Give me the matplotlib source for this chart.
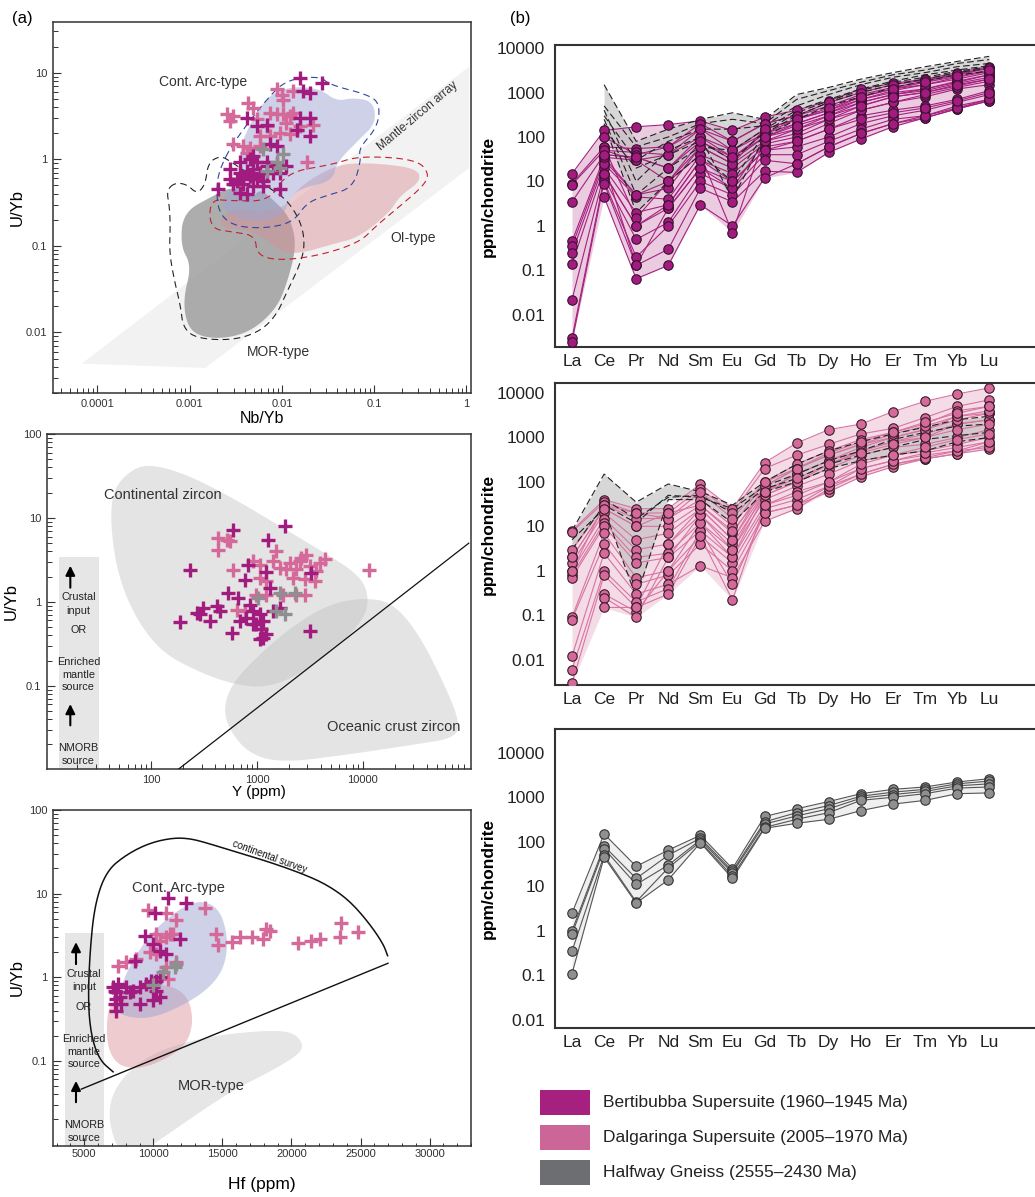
import numpy as np
import matplotlib
matplotlib.use("Agg")
import matplotlib.pyplot as plt
from matplotlib.patches import Polygon, Rectangle
from matplotlib.ticker import LogLocator, NullFormatter, AutoMinorLocator

plt.rcParams['font.family'] = ['Liberation Sans', 'DejaVu Sans']

# ---------------- colours ----------------
BERT = '#A21C7F'
DALG = '#D4699A'
HALF = '#8F8F8F'

# ---------------- (a) top: Nb/Yb vs U/Yb ----------------
# field outlines as (log10 Nb/Yb, log10 U/Yb)
mantle_array = [(-4.17, -2.36), (-2.83, -2.41), (0.03, -0.10), (0.03, 1.07)]
arc_field = [(-2.45, 0.19), (-2.20, 0.69), (-1.95, 0.84), (-1.59, 0.82), (-1.41, 0.67),
             (-1.23, 0.71), (-1.01, 0.67), (-0.98, 0.42), (-1.16, 0.23), (-1.41, -0.04),
             (-1.45, -0.25), (-1.81, -0.34), (-1.91, -0.46), (-1.99, -0.65), (-2.31, -0.73),
             (-2.63, -0.61), (-2.65, -0.46), (-2.53, -0.31), (-2.45, -0.08)]
arc_outline = [(-2.67, -0.10), (-2.53, 0.19), (-2.17, 0.69), (-1.95, 0.92), (-1.59, 0.96),
               (-1.48, 0.86), (-1.08, 0.75), (-0.94, 0.65), (-0.96, 0.38), (-1.17, 0.12),
               (-1.14, 0.0), (-1.23, -0.33), (-1.52, -0.42), (-1.73, -0.50), (-1.88, -0.73),
               (-2.20, -0.80), (-2.53, -0.77), (-2.69, -0.61), (-2.71, -0.31)]
oi_field = [(-2.67, -0.69), (-2.53, -0.57), (-2.20, -0.61), (-1.95, -0.54), (-1.81, -0.31),
            (-1.41, -0.06), (-1.05, -0.04), (-0.54, -0.10), (-0.49, -0.25), (-0.72, -0.42),
            (-0.83, -0.61), (-1.16, -0.90), (-1.45, -0.98), (-1.81, -1.09), (-2.02, -1.07),
            (-2.20, -0.89), (-2.45, -0.80), (-2.65, -0.80)]
oi_outline = [(-2.78, -0.46), (-2.53, -0.48), (-2.13, -0.48), (-1.95, -0.15), (-1.45, -0.06),
              (-1.16, 0.04), (-0.54, 0.0), (-0.40, -0.17), (-0.47, -0.31), (-0.72, -0.54),
              (-0.98, -0.77), (-1.16, -0.96), (-1.59, -1.11), (-2.02, -1.17), (-2.27, -1.11),
              (-2.29, -0.88), (-2.53, -0.84), (-2.78, -0.80)]
mor_field = [(-3.10, -1.00), (-3.07, -0.61), (-2.74, -0.42), (-2.60, -0.34), (-2.45, -0.34),
             (-2.31, -0.44), (-2.24, -0.34), (-2.06, -0.50), (-1.91, -0.68), (-1.84, -1.00),
             (-1.95, -1.45), (-2.06, -1.72), (-2.31, -1.97), (-2.60, -2.07), (-2.89, -2.05),
             (-3.03, -1.92), (-3.07, -1.61), (-2.98, -1.23)]
mor_outline = [(-3.25, -0.36), (-3.16, -0.27), (-3.03, -0.29), (-2.92, -0.40), (-2.83, -0.29),
               (-2.80, -0.04), (-2.67, 0.04), (-2.56, -0.02), (-2.17, -0.31), (-1.95, -0.46),
               (-1.79, -0.73), (-1.75, -1.00), (-1.81, -1.23), (-1.95, -1.54), (-2.06, -1.80),
               (-2.24, -1.99), (-2.53, -2.09), (-2.92, -2.07), (-3.07, -1.95), (-3.10, -1.69),
               (-3.17, -1.38), (-3.22, -1.07), (-3.21, -0.77), (-3.22, -0.54)]

p1_bert = [(0.0157, 8.7), (0.0269, 7.6), (0.0170, 6.1), (0.0201, 5.8), (0.0157, 3.0), (0.0201, 3.0),
           (0.00532, 2.4), (0.00682, 2.5), (0.0144, 2.2), (0.0201, 1.85), (0.00415, 3.0), (0.00741, 1.49),
           (0.00875, 1.42), (0.00352, 0.92), (0.00451, 1.0), (0.00532, 0.92), (0.00682, 0.92),
           (0.00875, 0.88), (0.0112, 0.84), (0.00274, 0.77), (0.00352, 0.70), (0.00415, 0.73),
           (0.0049, 0.77), (0.00578, 0.70), (0.00682, 0.70), (0.00274, 0.59), (0.00324, 0.56),
           (0.00382, 0.59), (0.00451, 0.64), (0.00532, 0.59), (0.00628, 0.56), (0.00805, 0.70),
           (0.0095, 0.70), (0.00298, 0.52), (0.00382, 0.52), (0.0049, 0.49), (0.00628, 0.49),
           (0.00352, 0.41), (0.00415, 0.40), (0.0095, 0.45), (0.00205, 0.45), (0.00682, 0.84),
           (0.0049, 1.09)]
p1_dalg = [(0.00875, 6.4), (0.0099, 5.6), (0.0103, 4.9), (0.0133, 6.1), (0.00252, 3.3), (0.00298, 3.15),
           (0.00274, 2.8), (0.00432, 4.5), (0.0049, 3.9), (0.00741, 3.4), (0.00875, 3.3), (0.0103, 3.3),
           (0.0122, 3.15), (0.0133, 3.4), (0.0112, 2.6), (0.0157, 2.4), (0.0218, 2.5), (0.0095, 2.0),
           (0.0122, 1.94), (0.00578, 1.85), (0.00741, 1.85), (0.00298, 1.49), (0.00382, 1.42),
           (0.00451, 1.36), (0.00415, 1.19), (0.0185, 0.92), (0.0144, 2.2), (0.00578, 1.42),
           (0.00532, 2.9), (0.00682, 2.4)]
p1_half = [(0.00628, 1.30), (0.0103, 1.14), (0.00682, 0.73), (0.0095, 0.80), (0.00875, 0.92)]

# ---------------- (a) middle: Y vs U/Yb ----------------
cont_zircon = [(1.614, 0.960), (1.645, 1.357), (1.834, 1.595), (2.022, 1.635), (2.336, 1.516),
               (2.713, 1.278), (3.089, 1.0), (3.560, 0.643), (3.969, 0.325), (4.063, 0.048),
               (4.0, -0.230), (3.717, -0.587), (3.403, -0.865), (3.089, -1.024), (2.776, -0.984),
               (2.430, -0.825), (2.085, -0.587), (1.834, -0.151), (1.677, 0.365)]
ocean_zircon = [(2.681, -1.262), (2.776, -0.944), (3.089, -0.548), (3.403, -0.230), (3.717, -0.012),
                (4.031, 0.048), (4.283, -0.012), (4.534, -0.389), (4.785, -1.024), (4.911, -1.421),
                (4.879, -1.619), (4.502, -1.698), (3.874, -1.817), (3.246, -1.917), (2.932, -1.817),
                (2.744, -1.540)]
y_disc_x = [175, 100000]
y_disc_u = [0.0098, 5.0]

p2_bert = [(233, 2.38), (597, 7.1), (1274, 5.5), (1829, 8.1), (826, 2.78), (1227, 2.25), (768, 1.81),
           (535, 1.26), (665, 1.12), (187, 0.57), (269, 0.74), (311, 0.85), (415, 0.89), (359, 0.59),
           (447, 0.77), (575, 0.43), (857, 0.93), (796, 0.65), (920, 0.77), (1064, 0.71), (1143, 0.59),
           (989, 0.54), (1103, 0.47), (1227, 0.41), (1143, 0.37), (1064, 0.36), (1419, 0.77),
           (1641, 0.85), (3258, 2.21), (3148, 0.45), (290, 0.71), (689, 0.59), (1321, 1.47), (920, 0.54)]
p2_dalg = [(431, 5.8), (516, 5.5), (555, 5.3), (431, 4.2), (597, 2.38), (920, 3.05), (1064, 2.78),
           (1419, 3.05), (1641, 2.54), (2037, 2.91), (2529, 3.05), (3148, 2.66), (3908, 2.91),
           (4355, 3.28), (2623, 3.34), (2191, 1.93), (2825, 1.85), (3508, 1.76), (1527, 4.0),
           (11400, 2.38), (641, 0.81), (768, 0.77), (989, 1.22), (1227, 1.76), (1763, 1.22),
           (2356, 1.22), (2825, 1.22), (1064, 1.93), (1227, 1.22), (1898, 2.43), (2356, 2.43),
           (3633, 2.32), (2924, 3.66)]
p2_half = [(1026, 1.12), (1641, 1.28), (2271, 1.28), (1527, 0.77), (1829, 0.71)]

# ---------------- (a) bottom: Hf vs U/Yb ----------------
# outlines as (Hf ppm, log10 U/Yb)
arc_hf = [(7324, -0.317), (8049, 0.079), (9740, 0.516), (11670, 0.794), (13120, 0.913), (14330, 0.873),
          (15050, 0.714), (15420, 0.397), (15050, 0.079), (13850, -0.159), (11920, -0.357),
          (9740, -0.496), (8049, -0.476), (7324, -0.397)]
oi_hf = [(6600, -0.556), (6842, -0.317), (8049, -0.159), (9980, -0.079), (11670, -0.119),
         (12640, -0.278), (12880, -0.556), (12400, -0.794), (11190, -0.952), (9259, -1.091),
         (7566, -1.071), (6721, -0.873)]
mor_hf = [(6842, -1.468), (7808, -1.190), (9498, -0.952), (11920, -0.794), (14570, -0.694),
          (18190, -0.635), (20120, -0.655), (20850, -0.794), (20610, -0.913), (18680, -1.111),
          (15780, -1.349), (12880, -1.667), (10470, -1.944), (9020, -2.10), (7566, -2.10),
          (6842, -1.786)]
survey_hf = [(7084, -1.131), (6117, -0.992), (5514, -0.714), (5272, -0.317), (5393, 0.278),
             (5755, 0.873), (6600, 1.270), (8051, 1.468), (9740, 1.607), (11430, 1.667),
             (12640, 1.659), (13860, 1.607), (15780, 1.508), (18200, 1.389), (20610, 1.25),
             (22540, 1.111), (24230, 0.913), (25680, 0.635), (26650, 0.397), (26960, 0.258)]
hf_disc_x = [4789, 26990]
hf_disc_u = [0.046, 1.47]

p3_bert = [(11070, 8.96), (12400, 7.7), (10100, 5.9), (11920, 2.86), (9380, 3.08), (9980, 2.49),
           (10470, 2.08), (10950, 1.90), (8650, 1.58), (7084, 0.76), (7446, 0.83), (7324, 0.66),
           (7566, 0.58), (7205, 0.48), (7324, 0.40), (8049, 0.76), (8532, 0.69), (9015, 0.76),
           (8290, 0.66), (9498, 0.83), (9980, 0.76), (10220, 0.69), (10470, 0.58), (9980, 0.53),
           (9015, 0.48), (9860, 0.91), (10220, 0.91), (10470, 1.0), (7324, 0.55), (7205, 0.69),
           (7687, 0.48)]
p3_dalg = [(9620, 6.3), (10950, 5.9), (11670, 4.9), (13720, 6.7), (14570, 3.28), (14690, 2.45),
           (15660, 2.61), (16260, 3.0), (17110, 3.0), (17950, 2.86), (18190, 3.76), (20480, 2.57),
           (21450, 2.73), (22050, 2.86), (23500, 3.0), (23620, 4.5), (24830, 3.43), (7446, 1.38),
           (8049, 1.51), (8773, 1.65), (10220, 3.28), (10470, 2.73), (10950, 3.0), (11190, 3.28),
           (9740, 1.99), (10220, 1.90), (10950, 1.31), (11070, 0.95), (11670, 1.51), (11430, 3.28),
           (18430, 3.6)]
p3_half = [(10710, 1.15), (9980, 0.80), (11550, 1.31), (11670, 1.44)]

# ---------------- (b) chondrite-normalised REE ----------------
elements = ['La', 'Ce', 'Pr', 'Nd', 'Sm', 'Eu', 'Gd', 'Tb', 'Dy', 'Ho', 'Er', 'Tm', 'Yb', 'Lu']
nan = np.nan
ree_bert = [
    [15, 140, 170, 190, 230, 140, 280, 400, 650, 1200, 1600, 2000, 2800, 3800],
    [9, 60, 55, 60, 200, 80, 200, 300, 500, 900, 1300, 1800, 2500, 3500],
    [8.5, 50, 45, 40, 150, 50, 150, 250, 400, 800, 1200, 1500, 2200, 3000],
    [3.5, 40, 35, 20, 100, 35, 120, 200, 350, 700, 1000, 1200, 1700, 2500],
    [0.45, 35, 30, 10, 80, 30, 100, 150, 300, 600, 900, 1100, 1600, 2200],
    [0.35, 30, 5, 7, 60, 25, 80, 120, 250, 500, 800, 1000, 1400, 2000],
    [0.25, 25, 4.5, 4, 40, 20, 70, 100, 200, 400, 600, 800, 1200, 1500],
    [0.14, 20, 2, 3, 30, 15, 60, 80, 150, 300, 400, 500, 700, 1100],
    [0.022, 15, 1, 2.5, 20, 10, 50, 60, 100, 200, 300, 400, 600, 900],
    [0.003, 12, 0.5, 1.2, 15, 7, 40, 40, 80, 150, 250, 300, 500, 700],
    [0.0025, 10, 0.2, 1, 10, 5, 30, 25, 60, 120, 200, 270, 430, 650],
    [nan, 9, 0.13, 0.3, 7, 3.5, 17, 16, 45, 90, 170, 270, 430, 650],
    [nan, 4.5, 0.065, 0.13, 3, 1, 12, 25, 60, 120, 200, 300, 450, 700],
    [nan, 60, 1.5, 10, 40, 0.7, 100, 200, 350, 600, 900, 1200, 1800, 2500],
    [nan, 50, 30, 40, 100, 50, 120, 250, 400, 700, 1100, 1500, 2000, 2800],
    [nan, 25, 0.13, 2.5, 20, 7, 80, 150, 250, 400, 600, 900, 1300, 1800],
    [nan, 100, 40, 60, 150, 80, 200, 300, 600, 1000, 1500, 1900, 2600, 3600],
    [nan, 35, 5, 10, 60, 25, 150, 250, 450, 800, 1200, 1700, 2300, 3200],
    [nan, 15, 1, 3, 30, 10, 50, 80, 150, 250, 350, 450, 650, 1000],
    [nan, 40, 35, 20, 80, 35, 100, 180, 300, 500, 800, 1000, 1500, 2000],
]
ref_bert = [
    [nan, 1500, 80, 150, 250, 350, 250, 900, 1300, 2000, 2800, 3800, 5000, 6500],
    [nan, 500, 60, 100, 200, 250, 200, 700, 1100, 1700, 2500, 3200, 4500, 5500],
    [nan, 300, 30, 80, 150, 150, 180, 500, 900, 1500, 2200, 2800, 3800, 4500],
    [nan, 250, 5, 20, 60, 50, 150, 400, 700, 1200, 1800, 2500, 3200, 4000],
    [nan, 200, 2, 10, 40, 10, 120, 300, 600, 1000, 1500, 2000, 2800, 3500],
    [nan, 400, 10, 50, 100, 4, 100, 250, 500, 800, 1300, 1800, 2500, 3000],
    [nan, 150, 20, 40, 80, 30, 130, 350, 650, 1100, 1700, 2200, 3000, 3800],
]
ree_dalg = [
    [8, 40, 25, 25, 90, 25, 270, 750, 1500, 2000, 3800, 6500, 9500, 13000],
    [7.5, 35, 20, 20, 70, 20, 200, 400, 700, 1200, 1600, 2800, 5000, 7000],
    [3, 30, 15, 15, 40, 10, 100, 250, 500, 900, 1300, 2000, 4000, 5000],
    [2, 25, 10, 10, 30, 7, 80, 200, 400, 700, 1000, 1500, 3000, 3500],
    [1.5, 20, 5, 7, 25, 5, 60, 150, 300, 500, 800, 1000, 2000, 2500],
    [1, 15, 3, 4, 18, 4, 50, 100, 200, 400, 600, 700, 1000, 1500],
    [0.8, 12, 2, 2.5, 12, 3, 40, 80, 150, 300, 400, 500, 700, 1000],
    [0.7, 10, 1.5, 2, 8, 2, 30, 60, 100, 200, 300, 400, 500, 800],
    [0.09, 7, 0.7, 1, 6, 1.5, 25, 40, 80, 150, 250, 330, 430, 700],
    [0.08, 4, 0.5, 0.8, 4, 1, 20, 30, 60, 130, 220, 330, 430, 550],
    [0.012, 2.5, 0.3, 0.5, 1.3, 0.7, 13, 25, 70, 150, 250, 350, 500, 600],
    [0.006, 1, 0.2, 0.4, 8, 0.5, 20, 30, 80, 200, 300, 450, 600, 800],
    [0.003, 0.8, 0.15, 0.3, 6, 0.22, 30, 50, 100, 250, 400, 600, 900, 1200],
    [nan, 0.3, 0.12, 1, 12, 2, 50, 100, 250, 500, 800, 1200, 2000, 2500],
    [nan, 0.25, 0.09, 2, 18, 3, 60, 150, 300, 600, 1000, 1500, 2500, 3500],
    [nan, 0.15, 0.15, 4, 25, 5, 80, 200, 400, 700, 1200, 1800, 3000, 4000],
    [1, 30, 20, 15, 60, 15, 100, 200, 450, 800, 1300, 2200, 3500, 5000],
    [2, 25, 10, 20, 30, 8, 60, 120, 250, 450, 700, 1000, 1500, 2000],
]
ref_dalg = [
    [8, 150, 35, 90, 60, 30, 100, 250, 500, 800, 1200, 1700, 2500, 3000],
    [3, 30, 12, 50, 45, 25, 80, 150, 300, 500, 900, 1300, 1800, 2000],
    [5, 25, 0.25, 40, 40, 12, 60, 100, 200, 300, 400, 500, 800, 1000],
    [nan, 40, 15, 45, 50, 20, 70, 120, 250, 400, 600, 900, 1100, 1300],
]
ree_half = [
    [2.5, 150, 28, 65, 140, 25, 370, 550, 800, 1200, 1500, 1700, 2200, 2600],
    [1.0, 80, 15, 50, 120, 22, 280, 450, 650, 1050, 1300, 1500, 2000, 2300],
    [0.85, 70, 11, 30, 110, 20, 250, 380, 550, 950, 1150, 1350, 1800, 2000],
    [0.35, 50, 4.5, 26, 100, 17, 210, 320, 450, 850, 1000, 1200, 1600, 1700],
    [0.11, 45, 4.2, 14, 95, 15, 200, 260, 320, 500, 700, 850, 1200, 1250],
]

legend_labels = ['Bertibubba Supersuite (1960\u20131945 Ma)',
                 'Dalgaringa Supersuite (2005\u20131970 Ma)',
                 'Halfway Gneiss (2555\u20132430 Ma)']
legend_colors = ['#A6217F', '#CC6699', '#6D6E71']

# ---------------- helpers ----------------
W, H = 1035, 1197
fig = plt.figure(figsize=(W / 100, H / 100), dpi=100)


def px_axes(l, t, r, b):
    return fig.add_axes([l / W, 1 - b / H, (r - l) / W, (b - t) / H])


def chaikin(pts, n=3, closed=True):
    p = np.asarray(pts, float)
    for _ in range(n):
        if closed:
            q = np.roll(p, -1, axis=0)
            p = np.concatenate([0.75 * p + 0.25 * q, 0.25 * p + 0.75 * q], axis=1).reshape(-1, 2)
        else:
            a, b = p[:-1], p[1:]
            mid = np.concatenate([0.75 * a + 0.25 * b, 0.25 * a + 0.75 * b], axis=1).reshape(-1, 2)
            p = np.vstack([p[:1], mid, p[-1:]])
    return p


def to_data(s, xlog):
    x = 10 ** s[:, 0] if xlog else s[:, 0]
    return np.column_stack([x, 10 ** s[:, 1]])


def field(ax, pts, xlog=True, smooth=True, **kw):
    s = chaikin(pts) if smooth else np.asarray(pts, float)
    ax.add_patch(Polygon(to_data(s, xlog), closed=True, **kw))


def crosses(ax, pts, color):
    x, y = zip(*pts)
    ax.plot(x, y, '+', color=color, ms=9.5, mew=2.4, ls='none', zorder=6)


def style_a(ax):
    for s in ax.spines.values():
        s.set_linewidth(1.1)
        s.set_color('#333333')
    ax.tick_params(which='both', direction='in', top=False, right=False,
                   labelsize=8, colors='#333333', pad=4)
    ax.tick_params(which='major', length=6, width=0.8)
    ax.tick_params(which='minor', length=3.5, width=0.7)


def side_bar(ax):
    ax.add_patch(Rectangle((0.028, 0), 0.094, 0.634, transform=ax.transAxes,
                           color='#E6E6E6', lw=0, zorder=0.5))
    tx = 0.074
    for txt, yy in [('Crustal', 0.512), ('input', 0.473), ('OR', 0.414), ('Enriched', 0.318),
                    ('mantle', 0.280), ('source', 0.244), ('NMORB', 0.063), ('source', 0.025)]:
        ax.text(tx, yy, txt, transform=ax.transAxes, ha='center', va='center',
                fontsize=7.8, color='#222222', zorder=7)
    for y0, y1 in [(0.533, 0.615), (0.122, 0.202)]:
        ax.annotate('', xy=(0.055, y1), xytext=(0.055, y0), xycoords='axes fraction',
                    arrowprops=dict(arrowstyle='-|>', color='k', lw=1.5, mutation_scale=14),
                    zorder=7)


# ---------------- panel (a) top ----------------
ax1 = px_axes(53, 22, 471, 393)
ax1.set_xscale('log')
ax1.set_yscale('log')
ax1.set_xlim(3.3e-5, 1.12)
ax1.set_ylim(0.002, 38.5)
field(ax1, mantle_array, smooth=False, color='#F2F2F2', lw=0, zorder=1)
field(ax1, mor_field, color='#999999', alpha=0.8, lw=0, zorder=2)
field(ax1, oi_field, color='#D98C94', alpha=0.45, lw=0, zorder=3)
field(ax1, arc_field, color='#9FA5D3', alpha=0.5, lw=0, zorder=3)
field(ax1, mor_outline, fill=False, ec='#222222', lw=0.8, ls=(0, (6, 4)), zorder=4)
field(ax1, oi_outline, fill=False, ec='#C3202E', lw=0.8, ls=(0, (6, 4)), zorder=4)
field(ax1, arc_outline, fill=False, ec='#2E45A0', lw=0.8, ls=(0, (6, 4)), zorder=4)
crosses(ax1, p1_dalg, DALG)
crosses(ax1, p1_bert, BERT)
crosses(ax1, p1_half, HALF)
ax1.text(0.00141, 7.9, 'Cont. Arc-type', ha='center', va='center', fontsize=10, color='#333333')
ax1.text(0.263, 0.123, 'OI-type', ha='center', va='center', fontsize=10, color='#333333')
ax1.text(0.0091, 0.006, 'MOR-type', ha='center', va='center', fontsize=10, color='#333333')
ax1.text(0.298, 3.15, 'Mantle-zircon array', ha='center', va='center', fontsize=8.5,
         rotation=40, color='#333333')
ax1.set_xticks([1e-4, 1e-3, 1e-2, 1e-1, 1])
ax1.set_xticklabels(['0.0001', '0.001', '0.01', '0.1', '1'])
ax1.set_yticks([0.01, 0.1, 1, 10])
ax1.set_yticklabels(['0.01', '0.1', '1', '10'])
for axis in (ax1.xaxis, ax1.yaxis):
    axis.set_minor_locator(LogLocator(base=10, subs=np.arange(2, 10)))
    axis.set_minor_formatter(NullFormatter())
style_a(ax1)
ax1.set_xlabel('Nb/Yb', fontsize=11.5, labelpad=2)
ax1.set_ylabel('U/Yb', fontsize=12, labelpad=1)

# ---------------- panel (a) middle ----------------
ax2 = px_axes(47, 434, 471, 769)
ax2.set_xscale('log')
ax2.set_yscale('log')
ax2.set_xlim(10.4, 1.05e5)
ax2.set_ylim(0.0102, 100)
field(ax2, cont_zircon, color='#BDBDBD', alpha=0.4, lw=0, zorder=1)
field(ax2, ocean_zircon, color='#BDBDBD', alpha=0.4, lw=0, zorder=1)
ax2.plot(y_disc_x, y_disc_u, color='#111111', lw=0.9, zorder=4)
side_bar(ax2)
crosses(ax2, p2_dalg, DALG)
crosses(ax2, p2_bert, BERT)
crosses(ax2, p2_half, HALF)
ax2.text(35.6, 18.6, 'Continental zircon', ha='left', va='center', fontsize=10.5, color='#333333')
ax2.text(19600, 0.032, 'Oceanic crust zircon', ha='center', va='center', fontsize=10.5,
         color='#333333')
ax2.set_xticks([100, 1000, 10000])
ax2.set_xticklabels(['100', '1000', '10000'])
ax2.set_yticks([0.1, 1, 10, 100])
ax2.set_yticklabels(['0.1', '1', '10', '100'])
for axis in (ax2.xaxis, ax2.yaxis):
    axis.set_minor_locator(LogLocator(base=10, subs=np.arange(2, 10)))
    axis.set_minor_formatter(NullFormatter())
style_a(ax2)
ax2.set_xlabel('Y (ppm)', fontsize=11, labelpad=0)
ax2.set_ylabel('U/Yb', fontsize=12, labelpad=3)

# ---------------- panel (a) bottom ----------------
ax3 = px_axes(53, 810, 471, 1146)
ax3.set_yscale('log')
ax3.set_xlim(2734, 33000)
ax3.set_ylim(0.0096, 97)
side_bar(ax3)
field(ax3, mor_hf, xlog=False, color='#E6E6E6', lw=0, zorder=1)
field(ax3, oi_hf, xlog=False, color='#D98C94', alpha=0.45, lw=0, zorder=2)
field(ax3, arc_hf, xlog=False, color='#9FA5D3', alpha=0.5, lw=0, zorder=3)
survey = to_data(chaikin(survey_hf, closed=False), xlog=False)
ax3.plot(survey[:, 0], survey[:, 1], color='#111111', lw=1.1, zorder=4)
ax3.plot(hf_disc_x, hf_disc_u, color='#111111', lw=1.0, zorder=4)
crosses(ax3, p3_dalg, DALG)
crosses(ax3, p3_bert, BERT)
crosses(ax3, p3_half, HALF)
ax3.text(11790, 11.8, 'Cont. Arc-type', ha='center', va='center', fontsize=10.5, color='#333333')
ax3.text(14160, 0.050, 'MOR-type', ha='center', va='center', fontsize=10.5, color='#333333')
ax3.text(18430, 27.4, 'continental survey', ha='center', va='center', fontsize=7,
         rotation=-20, color='#111111')
ax3.set_xticks([5000, 10000, 15000, 20000, 25000, 30000])
ax3.set_xticklabels(['5000', '10000', '15000', '20000', '25000', '30000'])
ax3.xaxis.set_minor_locator(AutoMinorLocator(5))
ax3.set_yticks([0.1, 1, 10, 100])
ax3.set_yticklabels(['0.1', '1', '10', '100'])
ax3.yaxis.set_minor_locator(LogLocator(base=10, subs=np.arange(2, 10)))
ax3.yaxis.set_minor_formatter(NullFormatter())
style_a(ax3)
ax3.tick_params(axis='x', pad=2, labelsize=8)
ax3.tick_params(axis='x', which='minor', length=2.5)
ax3.set_xlabel('Hf (ppm)', fontsize=12.5, labelpad=13)
ax3.set_ylabel('U/Yb', fontsize=12, labelpad=3)

# ---------------- panel (b) spidergrams ----------------
xe = np.arange(len(elements))


def envelope(ax, rows, color, z, alpha=1.0):
    d = np.array(rows, float)
    ok = ~np.all(np.isnan(d), axis=0)
    lo = np.nanmin(d[:, ok], axis=0)
    hi = np.nanmax(d[:, ok], axis=0)
    ax.fill_between(xe[ok], lo, hi, color=color, alpha=alpha, lw=0, zorder=z)


def profiles(ax, rows, line_c, face_c, edge_c, fill_c):
    envelope(ax, rows, fill_c, 1)
    for r in rows:
        ax.plot(xe, r, color=line_c, lw=0.8, zorder=3)
    for r in rows:
        ax.plot(xe, r, 'o', ms=6.8, mfc=face_c, mec=edge_c, mew=0.8, ls='none', zorder=5)


def reference(ax, rows):
    envelope(ax, rows, '#BDBDBD', 2, alpha=0.6)
    for r in rows:
        ax.plot(xe, r, color='#222222', lw=0.8, ls=(0, (6, 3)), zorder=4)


def style_b(ax, ylim):
    ax.set_yscale('log')
    ax.set_ylim(*ylim)
    ax.set_xlim(-0.53, 14.49)
    ax.set_xticks(xe)
    ax.set_xticklabels(elements)
    ax.set_yticks([0.01, 0.1, 1, 10, 100, 1000, 10000])
    ax.set_yticklabels(['0.01', '0.1', '1', '10', '100', '1000', '10000'])
    ax.yaxis.set_minor_locator(plt.NullLocator())
    ax.tick_params(length=0, labelsize=12.5, colors='#222222')
    ax.tick_params(axis='y', pad=7)
    ax.tick_params(axis='x', pad=5)
    for s in ax.spines.values():
        s.set_linewidth(1.5)
        s.set_color('#333333')
    ax.set_ylabel('ppm/chondrite', fontsize=12.5, fontweight='bold', labelpad=1)


bx1 = px_axes(555, 45, 1037, 347)
profiles(bx1, ree_bert, '#A6217F', BERT, '#3A1030', '#EACBE0')
reference(bx1, ref_bert)
style_b(bx1, (0.0019, 11700))

bx2 = px_axes(555, 383, 1037, 685)
profiles(bx2, ree_dalg, '#D873A2', DALG, '#3A1A2A', '#F4DCE7')
reference(bx2, ref_dalg)
style_b(bx2, (0.0027, 16800))

bx3 = px_axes(555, 729, 1037, 1028)
profiles(bx3, ree_half, '#555555', HALF, '#333333', '#EFEFEF')
style_b(bx3, (0.0066, 34000))

# ---------------- legend and panel letters ----------------
for i, (lab, col) in enumerate(zip(legend_labels, legend_colors)):
    top = 1090 + i * 35
    fig.patches.append(Rectangle((540 / W, 1 - (top + 25) / H), 50 / W, 25 / H,
                                 transform=fig.transFigure, color=col, lw=0))
    fig.text(603 / W, 1 - (top + 12.5) / H, lab, ha='left', va='center', fontsize=12.5,
             color='#222222')

fig.text(22 / W, 1 - 18 / H, '(a)', ha='center', va='center', fontsize=12)
fig.text(520 / W, 1 - 18 / H, '(b)', ha='center', va='center', fontsize=12)

fig.savefig('out.png', dpi=100)
